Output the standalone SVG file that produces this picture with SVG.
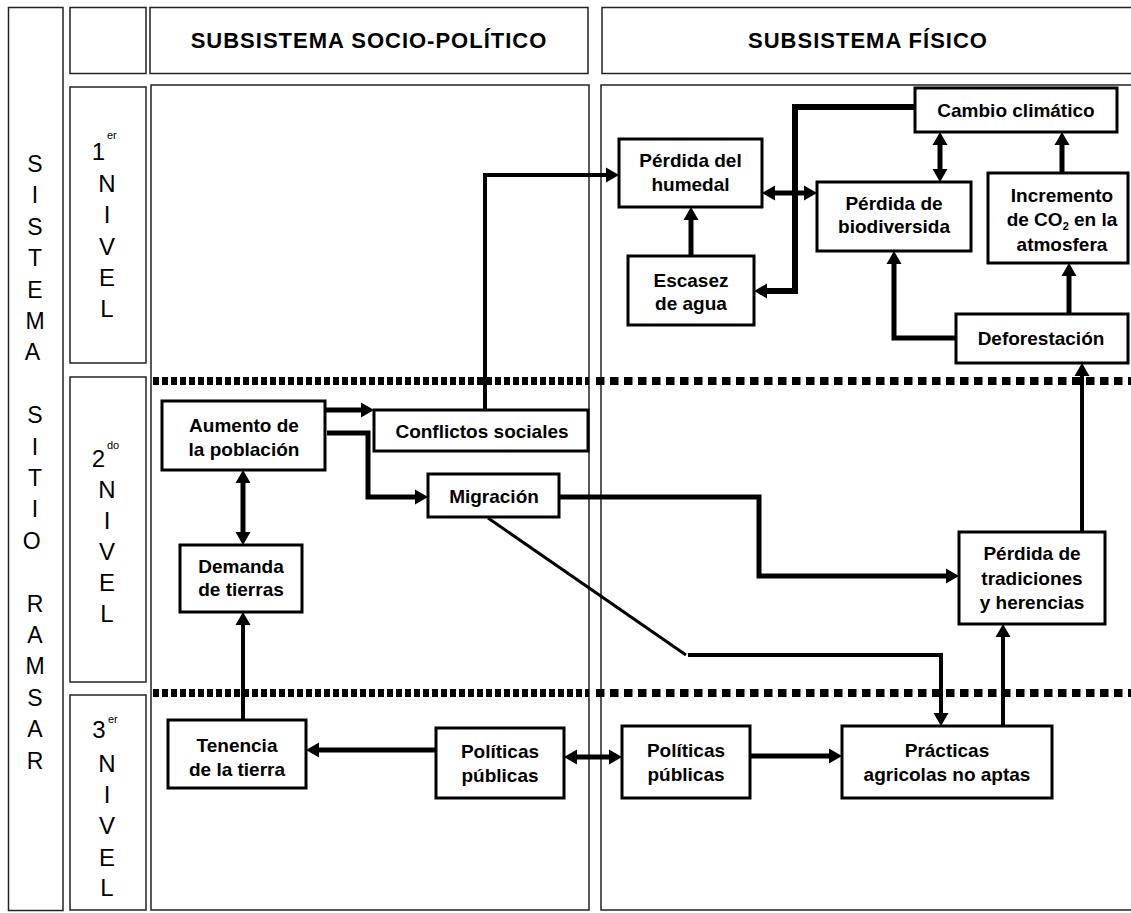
<svg xmlns="http://www.w3.org/2000/svg" width="1131" height="913" viewBox="0 0 1131 913">
<style>
.frame{fill:none;stroke:#222;stroke-width:1.5}
.n{fill:#fff;stroke:#000;stroke-width:3}
.t{font-family:"Liberation Sans",Arial,sans-serif;font-size:19px;font-weight:bold;fill:#000;text-anchor:middle}
.h{font-family:"Liberation Sans",Arial,sans-serif;font-size:22px;font-weight:bold;fill:#000;text-anchor:middle;letter-spacing:1px}
.lv{font-family:"Liberation Sans",Arial,sans-serif;font-size:24px;fill:#000;text-anchor:middle}
.sup{font-family:"Liberation Sans",Arial,sans-serif;font-size:11px;fill:#000}
.c{fill:none;stroke:#000;stroke-width:5}
.c4{fill:none;stroke:#000;stroke-width:4}
.thin{fill:none;stroke:#000;stroke-width:3}
.a{marker-end:url(#ah)}
.aa{marker-start:url(#ah);marker-end:url(#ah)}
</style>
<defs>
<marker id="ah" markerUnits="userSpaceOnUse" markerWidth="14" markerHeight="16" refX="7" refY="8" orient="auto-start-reverse" viewBox="0 0 14 16">
<path d="M0,0.5 L13,8 L0,15.5 Z" fill="#000"/>
</marker>
</defs>
<rect width="1131" height="913" fill="#fff"/>

<g id="frames">
<rect class="frame" x="8.5" y="7.5" width="54.5" height="903"/>
<rect class="frame" x="70" y="7.5" width="76" height="66"/>
<rect class="frame" x="70" y="87" width="76" height="276"/>
<rect class="frame" x="70" y="377" width="76" height="305"/>
<rect class="frame" x="70" y="695" width="76" height="215"/>
<rect class="frame" x="150" y="7.5" width="438" height="66"/>
<rect class="frame" x="602" y="7.5" width="540" height="66"/>
<rect class="frame" x="151" y="85" width="438" height="825"/>
<rect class="frame" x="601" y="85" width="540" height="825"/>
</g>

<g id="headers">
<text class="h" x="369" y="48">SUBSISTEMA SOCIO-POLÍTICO</text>
<text class="h" x="868" y="48">SUBSISTEMA FÍSICO</text>
</g>

<g id="sistema-label">
<text class="lv" style="font-size:23px">
<tspan x="35" y="172">S</tspan><tspan x="35" y="203.4">I</tspan><tspan x="35" y="234.8">S</tspan><tspan x="35" y="266.2">T</tspan><tspan x="35" y="297.6">E</tspan><tspan x="35" y="329">M</tspan><tspan x="35" y="360.4">A</tspan>
<tspan x="35" y="423.2">S</tspan><tspan x="35" y="454.6">I</tspan><tspan x="35" y="486">T</tspan><tspan x="35" y="517.4">I</tspan><tspan x="35" y="548.8">O</tspan>
<tspan x="35" y="611.6">R</tspan><tspan x="35" y="643">A</tspan><tspan x="35" y="674.4">M</tspan><tspan x="35" y="705.8">S</tspan><tspan x="35" y="737.2">A</tspan><tspan x="35" y="768.6">R</tspan>
</text>
</g>

<g id="nivel1">
<text class="lv" x="98.5" y="160">1</text><text class="sup" x="107" y="139">er</text>
<text class="lv"><tspan x="107" y="192">N</tspan><tspan x="107" y="223">I</tspan><tspan x="107" y="255">V</tspan><tspan x="107" y="286">E</tspan><tspan x="107" y="317">L</tspan></text>
</g>
<g id="nivel2">
<text class="lv" x="98.5" y="467">2</text><text class="sup" x="107" y="449">do</text>
<text class="lv"><tspan x="107" y="498">N</tspan><tspan x="107" y="529">I</tspan><tspan x="107" y="560">V</tspan><tspan x="107" y="591">E</tspan><tspan x="107" y="622">L</tspan></text>
</g>
<g id="nivel3">
<text class="lv" x="99" y="738">3</text><text class="sup" x="108" y="723">er</text>
<text class="lv"><tspan x="107" y="772">N</tspan><tspan x="107" y="803">I</tspan><tspan x="107" y="834">V</tspan><tspan x="107" y="866">E</tspan><tspan x="107" y="896">L</tspan></text>
</g>

<g id="separators">
<line x1="153" y1="381" x2="589" y2="381" stroke="#000" stroke-width="8" stroke-dasharray="6 3"/>
<line x1="596" y1="381" x2="1131" y2="381" stroke="#000" stroke-width="8" stroke-dasharray="8.5 5.5"/>
<line x1="153" y1="693" x2="589" y2="693" stroke="#000" stroke-width="8" stroke-dasharray="6 3"/>
<line x1="596" y1="693" x2="1131" y2="693" stroke="#000" stroke-width="8" stroke-dasharray="8.5 5.5"/>
</g>

<g id="connectors">
<path class="c4 a" d="M485 410 V175 H613"/>
<path class="c a" d="M691 256 V213"/>
<path class="c a" d="M915 107 H795 V291 H760" style="stroke-width:6"/>
<path class="c aa" d="M768 193 H811"/>
<path class="c aa" d="M940 138 V176"/>
<path class="c a" d="M1062 173 V138"/>
<path class="c a" d="M1069 314 V269"/>
<path class="c a" d="M956 338 H894 V257"/>
<path class="c4 a" d="M1082 532 V369"/>
<path class="c a" d="M325 410 H368"/>
<path class="c a" d="M327 433 H368 V497 H422"/>
<path class="c aa" d="M243 476 V539"/>
<path class="c a" d="M559 497 H759 V576 H953"/>
<path class="thin" d="M488 518 L686 655"/>
<path class="c4 a" d="M688 655 H941 V720"/>
<path class="c4 a" d="M1003 730 V630"/>
<path class="c4 a" d="M243 720 V618"/>
<path class="c a" d="M436 750 H312"/>
<path class="c aa" d="M570 757 H616"/>
<path class="c a" d="M750 756 H836"/>
</g>

<g id="cambio-climatico">
<rect class="n" x="915" y="88" width="202" height="44"/>
<text class="t" x="1016" y="117">Cambio climático</text>
</g>
<g id="perdida-humedal">
<rect class="n" x="619" y="139" width="143" height="68"/>
<text class="t"><tspan x="690.5" y="167">Pérdida del</tspan><tspan x="690.5" y="191">humedal</tspan></text>
</g>
<g id="escasez-agua">
<rect class="n" x="628" y="256" width="126" height="69"/>
<text class="t"><tspan x="691" y="287">Escasez</tspan><tspan x="691" y="310">de agua</tspan></text>
</g>
<g id="perdida-biodiversidad">
<rect class="n" x="817" y="182" width="154" height="69"/>
<text class="t"><tspan x="894" y="210">Pérdida de</tspan><tspan x="894" y="233">biodiversida</tspan></text>
</g>
<g id="incremento-co2">
<rect class="n" x="988" y="173" width="140" height="90"/>
<text class="t"><tspan x="1062" y="202">Incremento</tspan><tspan x="1062" y="226">de CO<tspan font-size="11" dy="4">2</tspan><tspan dy="-4"> en la</tspan></tspan><tspan x="1062" y="251">atmosfera</tspan></text>
</g>
<g id="deforestacion">
<rect class="n" x="956" y="314" width="172" height="49"/>
<text class="t" x="1041" y="345">Deforestación</text>
</g>
<g id="aumento-poblacion">
<rect class="n" x="162" y="401" width="163" height="69"/>
<text class="t"><tspan x="244" y="432">Aumento de</tspan><tspan x="244" y="456">la población</tspan></text>
</g>
<g id="conflictos-sociales">
<rect class="n" x="374" y="410" width="214" height="41"/>
<text class="t" x="482" y="438">Conflictos sociales</text>
</g>
<g id="migracion">
<rect class="n" x="428" y="474" width="131" height="43"/>
<text class="t" x="494" y="503">Migración</text>
</g>
<g id="demanda-tierras">
<rect class="n" x="180" y="545" width="122" height="67"/>
<text class="t"><tspan x="241" y="573">Demanda</tspan><tspan x="241" y="596">de tierras</tspan></text>
</g>
<g id="perdida-tradiciones">
<rect class="n" x="959" y="532" width="146" height="92"/>
<text class="t"><tspan x="1032" y="560">Pérdida de</tspan><tspan x="1032" y="585">tradiciones</tspan><tspan x="1032" y="609">y herencias</tspan></text>
</g>
<g id="tenencia-tierra">
<rect class="n" x="168" y="720" width="138" height="68"/>
<text class="t"><tspan x="237" y="752">Tenencia</tspan><tspan x="237" y="776">de la tierra</tspan></text>
</g>
<g id="politicas-socio">
<rect class="n" x="436" y="728" width="128" height="70"/>
<text class="t"><tspan x="500" y="758">Políticas</tspan><tspan x="500" y="782">públicas</tspan></text>
</g>
<g id="politicas-fisico">
<rect class="n" x="622" y="726" width="128" height="72"/>
<text class="t"><tspan x="686" y="757">Políticas</tspan><tspan x="686" y="781">públicas</tspan></text>
</g>
<g id="practicas-agricolas">
<rect class="n" x="842" y="726" width="210" height="72"/>
<text class="t"><tspan x="947" y="757">Prácticas</tspan><tspan x="947" y="781">agricolas no aptas</tspan></text>
</g>
</svg>
